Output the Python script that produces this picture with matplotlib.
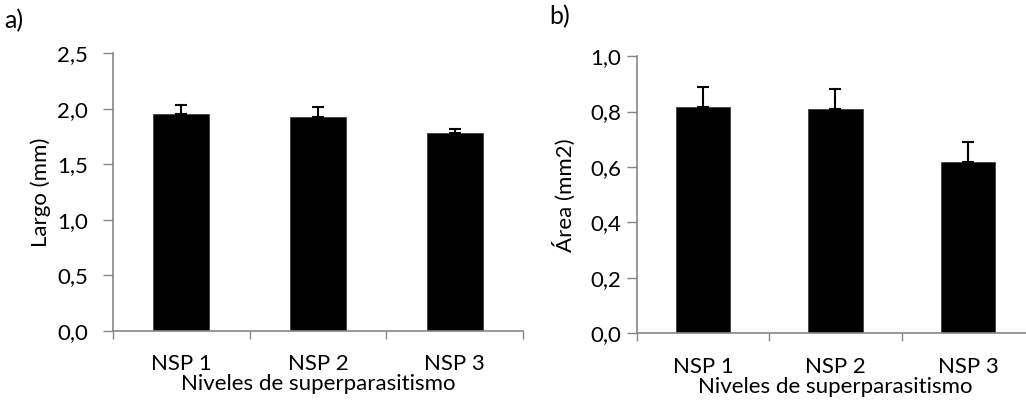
import matplotlib.pyplot as plt

plt.rcParams['font.family'] = ['Lato', 'DejaVu Sans']

# data
categorias = ['NSP 1', 'NSP 2', 'NSP 3']
largo = [1.95, 1.93, 1.78]
largo_err = [0.085, 0.09, 0.04]
area = [0.817, 0.811, 0.618]
area_err = [0.071, 0.071, 0.072]

gris = '#868686'
fs = 16
dpi = 100
fig = plt.figure(figsize=(10.26, 4.04), dpi=dpi)

ax1 = fig.add_axes([0.110, 0.181, 0.400, 0.687])
ax2 = fig.add_axes([0.6206, 0.175, 0.3874, 0.686])


def panel(ax, vals, errs, ymax, step, ylabel, ypad, ylab_x):
    x = list(range(len(categorias)))
    ax.bar(x, vals, width=0.41, color='black', edgecolor='#404040', linewidth=0.6, zorder=2)
    ax.errorbar(x, vals, yerr=[[0] * len(errs), errs], fmt='none', ecolor='black',
                elinewidth=1.5, capsize=4.5, capthick=1.5, zorder=3)
    ax.set_xlim(-0.5, 2.5)
    ax.set_ylim(0, ymax)
    n = int(round(ymax / step))
    ticks = [i * step for i in range(n + 1)]
    ax.set_yticks(ticks)
    ax.set_yticklabels([f'{t:.1f}'.replace('.', ',') for t in ticks])
    # boundaries as major ticks, names as minor ticks
    ax.set_xticks([-0.5, 0.5, 1.5, 2.5])
    ax.set_xticklabels([])
    ax.set_xticks(x, minor=True)
    ax.set_xticklabels(categorias, minor=True)
    ax.tick_params(axis='x', which='major', length=6, color=gris, width=1)
    ax.tick_params(axis='x', which='minor', length=0, pad=17, labelsize=fs)
    ax.tick_params(axis='y', length=7, color=gris, width=1, pad=ypad, labelsize=fs)
    for s in ['top', 'right']:
        ax.spines[s].set_visible(False)
    for s in ['left', 'bottom']:
        ax.spines[s].set_color(gris)
        ax.spines[s].set_linewidth(1.2)
    ax.set_xlabel('Niveles de superparasitismo', fontsize=fs, labelpad=0)
    ax.set_ylabel(ylabel, fontsize=fs)
    ax.yaxis.set_label_coords(ylab_x, 0.5)


panel(ax1, largo, largo_err, 2.5, 0.5, 'Largo (mm)', 11, -0.15)
panel(ax2, area, area_err, 1.0, 0.2, 'Área (mm2)', 4, -0.152)

fig.text(0.004, 0.95, 'a)', fontsize=18, va='center', ha='left')
fig.text(0.535, 0.96, 'b)', fontsize=18, va='center', ha='left')

fig.savefig('out.png', dpi=dpi)
